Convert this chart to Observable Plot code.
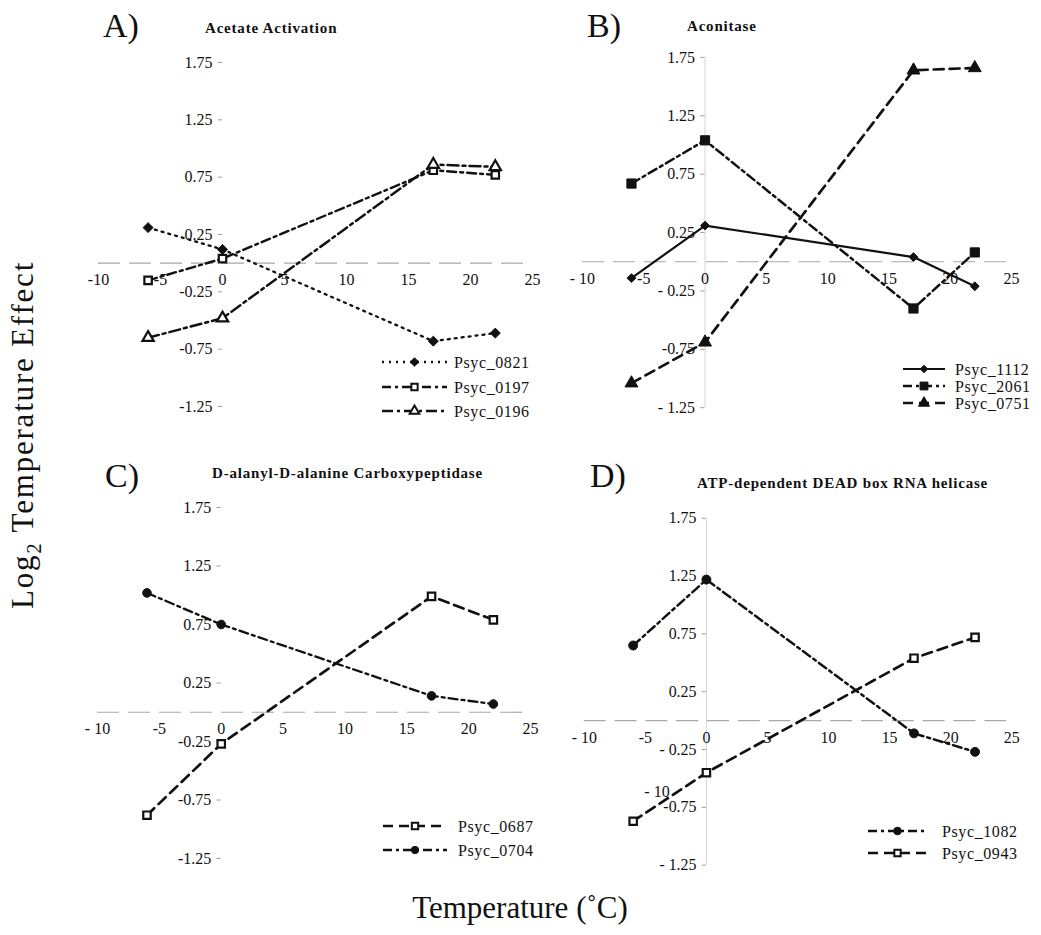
<!DOCTYPE html>
<html>
<head>
<meta charset="utf-8">
<script src="https://cdn.jsdelivr.net/npm/d3@7"></script>
<script src="https://cdn.jsdelivr.net/npm/@observablehq/plot@0.6"></script>
<style>
  body { margin: 0; background: #fff; }
  #fig { position: relative; width: 1041px; height: 935px; overflow: hidden;
         font-family: 'Liberation Serif', 'Times New Roman', serif; color: #111; }
  .panel { position: absolute; }
  .panel svg text, #overlay text { font-family: 'Liberation Serif', 'Times New Roman', serif; }
  #overlay { position: absolute; left: 0; top: 0; pointer-events: none; }
</style>
</head>
<body>
<div id="fig"></div>
<script>
// Growth temperatures (°C) shared by every series
const temperatures = [-6, 0, 17, 22];

// A) Acetate activation
const psyc0821 = [0.31, 0.12, -0.68, -0.61];
const psyc0197 = [-0.15, 0.04, 0.81, 0.77];
const psyc0196 = [-0.65, -0.48, 0.86, 0.84];

// B) Aconitase
const psyc1112 = [-0.14, 0.31, 0.04, -0.21];
const psyc2061 = [0.67, 1.04, -0.40, 0.08];
const psyc0751 = [-1.04, -0.69, 1.64, 1.66];

// C) D-alanyl-D-alanine carboxypeptidase
const psyc0687 = [-0.88, -0.27, 0.99, 0.79];
const psyc0704 = [1.02, 0.75, 0.14, 0.07];

// D) ATP-dependent DEAD box RNA helicase
const psyc1082 = [0.65, 1.22, -0.11, -0.27];
const psyc0943 = [-0.87, -0.45, 0.54, 0.72];

// Axis ticks and their printed labels
const xTicks = [-10, -5, 0, 5, 10, 15, 20, 25];
const xTickLabelsA = ["-10", "-5", "0", "5", "10", "15", "20", "25"];
const xTickLabelsB = ["- 10", "-5", "0", "5", "10", "15", "20", "25"];
const yTicks = [1.75, 1.25, 0.75, 0.25, -0.25, -0.75, -1.25];
const yTickLabelsA = ["1.75", "1.25", "0.75", "0.25", "-0.25", "-0.75", "-1.25"];
const yTickLabelsB = ["1.75", "1.25", "0.75", "0.25", "- 0.25", "-0.75", "- 1.25"];

const panelLetters = ["A)", "B)", "C)", "D)"];
const panelTitles = [
  "Acetate Activation",
  "Aconitase",
  "D-alanyl-D-alanine Carboxypeptidase",
  "ATP-dependent DEAD box RNA helicase"
];

// Line / marker styles for each series
const DOT = "2,5", DASHDOT = "9,4,3,4", LONGDASHDOT = "11,4,3,4", DASH = "10,6";
const panels = [
  {
    letter: panelLetters[0], title: panelTitles[0],
    box: {left: 98, right: 532, top: 62, bottom: 406},
    letterPos: [103, 37], titlePos: [205, 33],
    xLabels: xTickLabelsA, yLabels: yTickLabelsA, vertical: false,
    legend: {x1: 382, x2: 447, tx: 454, rows: [362, 387, 411]},
    series: [
      {name: "Psyc_0821", values: psyc0821, dash: DOT, width: 2.3, symbol: "diamond2", r: 4.5, fill: "#111"},
      {name: "Psyc_0197", values: psyc0197, dash: DASHDOT, width: 2.4, symbol: "square", r: 4.2, fill: "#fff"},
      {name: "Psyc_0196", values: psyc0196, dash: LONGDASHDOT, width: 2.5, symbol: "triangle", r: 4.2, fill: "#fff"}
    ]
  },
  {
    letter: panelLetters[1], title: panelTitles[1],
    box: {left: 582, right: 1012, top: 57, bottom: 408},
    letterPos: [587, 37], titlePos: [687, 31],
    xLabels: xTickLabelsB, yLabels: yTickLabelsB, vertical: true,
    legend: {x1: 903, x2: 945, tx: 955, rows: [369, 386, 403]},
    series: [
      {name: "Psyc_1112", values: psyc1112, dash: null, width: 2.2, symbol: "diamond2", r: 4, fill: "#111"},
      {name: "Psyc_2061", values: psyc2061, dash: DASHDOT, width: 2.5, symbol: "square", r: 5.2, fill: "#111"},
      {name: "Psyc_0751", values: psyc0751, dash: DASH, width: 2.7, symbol: "triangle", r: 4.8, fill: "#111"}
    ]
  },
  {
    letter: panelLetters[2], title: panelTitles[2],
    box: {left: 97, right: 530, top: 507, bottom: 858},
    letterPos: [105, 487], titlePos: [212, 478],
    xLabels: xTickLabelsB, yLabels: yTickLabelsA, vertical: false,
    legend: {x1: 383, x2: 447, tx: 458, rows: [826, 850]},
    series: [
      {name: "Psyc_0687", values: psyc0687, dash: DASH, width: 2.7, symbol: "square", r: 4.2, fill: "#fff"},
      {name: "Psyc_0704", values: psyc0704, dash: DASHDOT, width: 2.3, symbol: "circle", r: 4.3, fill: "#111"}
    ]
  },
  {
    letter: panelLetters[3], title: panelTitles[3],
    box: {left: 584, right: 1014, top: 518, bottom: 867},
    letterPos: [590, 487], titlePos: [697, 488],
    xLabels: xTickLabelsB, yLabels: yTickLabelsB, vertical: true,
    legend: {x1: 868, x2: 927, tx: 942, rows: [831, 853]},
    series: [
      {name: "Psyc_1082", values: psyc1082, dash: DASHDOT, width: 2.5, symbol: "circle", r: 4.5, fill: "#111"},
      {name: "Psyc_0943", values: psyc0943, dash: DASH, width: 2.7, symbol: "square", r: 4.2, fill: "#fff"}
    ]
  }
];

const fig = d3.select("#fig");
const M = 30; // margin around each plotting area (labels spill into it)
const FONT = "'Liberation Serif', 'Times New Roman', serif";

for (const p of panels) {
  const w = p.box.right - p.box.left, h = p.box.bottom - p.box.top;
  const marks = [
    // zero line the x axis sits on
    Plot.ruleY([0], {stroke: "#a8a8a8", strokeWidth: 1.2, strokeDasharray: "22,9"}),
    // small y-axis ticks at x = 0
    Plot.ruleY(yTicks, {y: d => d, x1: -0.35, x2: 0, stroke: "#a0a0a0"}),
    Plot.text(yTicks, {x: 0, y: d => d, text: (d, i) => p.yLabels[i], textAnchor: "end",
      dx: -10, fontSize: 16, fontFamily: FONT, fill: "#111"}),
    Plot.text(xTicks, {x: d => d, y: 0, text: (d, i) => p.xLabels[i],
      dy: 17, fontSize: 16, fontFamily: FONT, fill: "#111"})
  ];
  if (p.vertical) marks.unshift(Plot.ruleX([0], {stroke: "#d6d6d6", strokeWidth: 1}));
  for (const s of p.series) {
    const rows = temperatures.map((t, i) => ({t, v: s.values[i]}));
    marks.push(Plot.line(rows, {x: "t", y: "v", stroke: "#111", strokeWidth: s.width,
      strokeDasharray: s.dash || undefined}));
  }
  for (const s of p.series) {
    const rows = temperatures.map((t, i) => ({t, v: s.values[i]}));
    marks.push(Plot.dot(rows, {x: "t", y: "v", symbol: s.symbol, r: s.r, fill: s.fill,
      stroke: "#111", strokeWidth: s.fill === "#fff" ? 2.2 : 1}));
  }
  const svg = Plot.plot({
    width: w + 2 * M, height: h + 2 * M,
    marginLeft: M, marginRight: M, marginTop: M, marginBottom: M,
    x: {domain: [-10, 25], axis: null},
    y: {domain: [-1.25, 1.75], axis: null},
    style: {background: "transparent", overflow: "visible", fontFamily: FONT},
    marks
  });
  fig.append("div").attr("class", "panel")
    .style("left", (p.box.left - M) + "px").style("top", (p.box.top - M) + "px")
    .node().appendChild(svg);
}

// Overlay: panel letters, titles, legends, shared axis titles
const ov = fig.append("svg").attr("id", "overlay").attr("width", 1041).attr("height", 935);

const symbolOf = {
  diamond2: d3.symbolDiamond2, square: d3.symbolSquare,
  triangle: d3.symbolTriangle, circle: d3.symbolCircle
};

for (const p of panels) {
  ov.append("text").attr("x", p.letterPos[0]).attr("y", p.letterPos[1])
    .attr("font-size", 34).attr("fill", "#111").text(p.letter);
  ov.append("text").attr("x", p.titlePos[0]).attr("y", p.titlePos[1])
    .attr("font-size", 15).attr("font-weight", "bold").attr("letter-spacing", 0.8)
    .attr("fill", "#111").text(p.title);

  const lg = p.legend;
  p.series.forEach((s, i) => {
    const y = lg.rows[i];
    ov.append("line").attr("x1", lg.x1).attr("x2", lg.x2).attr("y1", y).attr("y2", y)
      .attr("stroke", "#111").attr("stroke-width", s.width)
      .attr("stroke-dasharray", s.dash || null);
    const rr = s.r * 0.85;
    ov.append("path")
      .attr("d", d3.symbol(symbolOf[s.symbol], Math.PI * rr * rr)())
      .attr("transform", `translate(${(lg.x1 + lg.x2) / 2},${y})`)
      .attr("fill", s.fill).attr("stroke", "#111")
      .attr("stroke-width", s.fill === "#fff" ? 2 : 1);
    ov.append("text").attr("x", lg.tx).attr("y", y + 5.5)
      .attr("font-size", 16).attr("letter-spacing", 0.6).attr("fill", "#111").text(s.name);
  });
}

// stray axis label printed inside panel D
ov.append("text").attr("x", 657).attr("y", 797).attr("font-size", 16)
  .attr("text-anchor", "middle").attr("fill", "#111").text("- 10");

// shared y-axis title
const yt = ov.append("text").attr("transform", "translate(33,435) rotate(-90)")
  .attr("text-anchor", "middle").attr("font-size", 31).attr("letter-spacing", 1.8)
  .attr("fill", "#111");
yt.append("tspan").text("Log");
yt.append("tspan").attr("font-size", 21).attr("dy", 8).text("2");
yt.append("tspan").attr("dy", -8).text(" Temperature Effect");

// shared x-axis title
ov.append("text").attr("x", 520).attr("y", 918).attr("text-anchor", "middle")
  .attr("font-size", 31).attr("fill", "#111").text("Temperature (\u02DAC)");
</script>
</body>
</html>
